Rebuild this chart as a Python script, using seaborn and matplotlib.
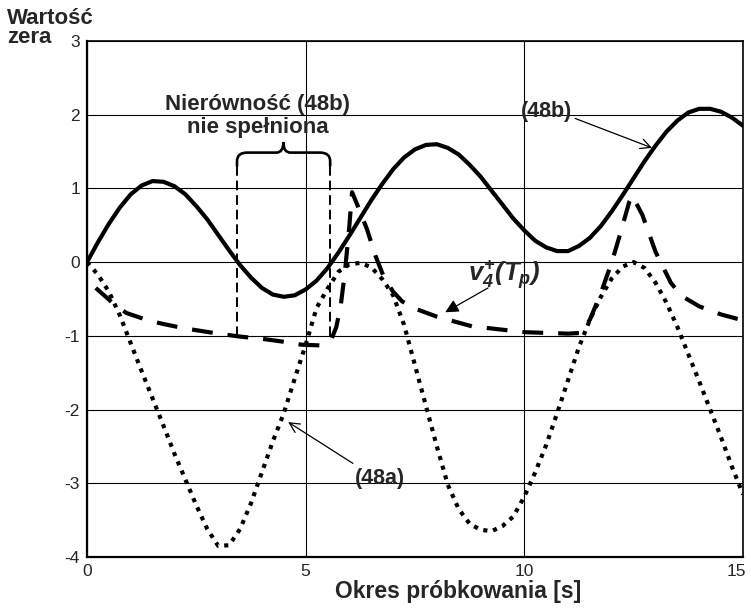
import numpy as np
import matplotlib
matplotlib.use("Agg")
import matplotlib.pyplot as plt
from matplotlib.path import Path
from matplotlib.patches import PathPatch
from matplotlib.transforms import ScaledTranslation
import seaborn as sns

# sampling instants, every 0.25 s
t = np.arange(0, 15.01, 0.25)

# (48b) - solid curve
zero_48b = [0.00, 0.27, 0.52, 0.74, 0.92, 1.04, 1.10, 1.09, 1.03, 0.92, 0.76, 0.58,
            0.37, 0.16, -0.04, -0.21, -0.35, -0.44, -0.47, -0.45, -0.37, -0.25, -0.08,
            0.13, 0.36, 0.60, 0.84, 1.06, 1.26, 1.42, 1.53, 1.59, 1.60, 1.55, 1.46,
            1.32, 1.16, 0.97, 0.78, 0.59, 0.43, 0.29, 0.20, 0.15, 0.15, 0.22, 0.33,
            0.49, 0.69, 0.91, 1.14, 1.37, 1.58, 1.77, 1.92, 2.03, 2.08, 2.08, 2.04,
            1.96, 1.85]

# (48a) - dotted curve
zero_48a = [0.00, -0.17, -0.40, -0.72, -1.10, -1.48, -1.85, -2.22, -2.60, -2.95, -3.30,
            -3.62, -3.85, -3.84, -3.62, -3.27, -2.85, -2.43, -2.05, -1.58, -1.12, -0.62,
            -0.36, -0.13, -0.03, -0.01, -0.07, -0.23, -0.45, -0.85, -1.40, -1.95, -2.50,
            -3.02, -3.35, -3.55, -3.63, -3.65, -3.58, -3.45, -3.18, -2.85, -2.48, -2.05,
            -1.60, -1.15, -0.78, -0.47, -0.22, -0.06, 0.00, -0.08, -0.28, -0.55, -0.88,
            -1.25, -1.62, -2.00, -2.38, -2.78, -3.15]

# v4+(Tp) - dashed curve
t_v4 = [0.2, 0.6, 0.9, 1.4, 1.75, 2.25, 3.0, 3.5, 4.0, 4.5, 4.9, 5.35, 5.6, 5.7, 5.8,
        5.9, 6.0, 6.06, 6.2, 6.4, 6.6, 6.8, 7.0, 7.2, 7.5, 8.0, 8.8, 10.0, 11.0, 11.3,
        11.5, 11.75, 12.0, 12.2, 12.4, 12.47, 12.7, 13.0, 13.35, 13.6, 14.0, 14.5, 15.0]
zero_v4 = [-0.35, -0.56, -0.69, -0.79, -0.84, -0.90, -0.97, -1.01, -1.04, -1.08, -1.12,
           -1.13, -1.03, -0.88, -0.60, -0.12, 0.50, 0.95, 0.75, 0.45, 0.08, -0.22, -0.40,
           -0.53, -0.63, -0.74, -0.87, -0.95, -0.97, -0.96, -0.78, -0.42, 0.00, 0.40,
           0.82, 0.90, 0.64, 0.14, -0.28, -0.46, -0.60, -0.71, -0.79]

sns.set_style("white")
plt.rcParams["font.family"] = ["Liberation Sans", "DejaVu Sans"]
plt.rcParams["axes.unicode_minus"] = False
plt.rcParams["mathtext.fontset"] = "custom"
plt.rcParams["mathtext.it"] = "Liberation Sans:italic:bold"
plt.rcParams["mathtext.rm"] = "Liberation Sans:italic:bold"

fig = plt.figure(figsize=(7.51, 6.12), dpi=100)
ax = fig.add_axes([87 / 751, 55 / 612, 656 / 751, 516 / 612])

sns.lineplot(x=t, y=zero_48b, ax=ax, color="black", linewidth=3)
sns.lineplot(x=t, y=zero_48a, ax=ax, color="black", linewidth=3,
             linestyle=(0, (1, 1.4)), dash_capstyle="butt")
sns.lineplot(x=t_v4, y=zero_v4, ax=ax, color="black", linewidth=3,
             linestyle=(0, (5, 3.6)), dash_capstyle="butt")

ax.set_xlim(0, 15)
ax.set_ylim(-4, 3)
ax.set_xticks([0, 5, 10, 15])
ax.set_yticks(range(-4, 4))
ax.grid(True, color="black", linewidth=0.8)
ax.set_axisbelow(True)
ax.tick_params(length=0, labelsize=12.5, pad=5)
for side in ax.spines:
    ax.spines[side].set_color("black")
    ax.spines[side].set_linewidth(1.2)
ax.spines["left"].set_linewidth(1.6)
ax.spines["bottom"].set_linewidth(1.6)

# keep the last x tick label inside the figure
last = ax.get_xticklabels()[-1]
last.set_transform(last.get_transform() + ScaledTranslation(-5 / 72, 0, fig.dpi_scale_trans))

# brace over the interval where (48b) is not satisfied
bx0, bx1, by, tip = 3.43, 5.56, 1.486, 1.63
verts = [(bx0, 1.30), (bx0, 1.37), (bx0, by), (bx0 + 0.23, by), (4.33, by),
         (4.49, by), (4.49, tip), (4.49, by), (4.65, by), (bx1 - 0.23, by),
         (bx1, by), (bx1, 1.37), (bx1, 1.30)]
codes = [Path.MOVETO, Path.LINETO, Path.CURVE3, Path.CURVE3, Path.LINETO,
         Path.CURVE3, Path.CURVE3, Path.CURVE3, Path.CURVE3, Path.LINETO,
         Path.CURVE3, Path.CURVE3, Path.LINETO]
ax.add_patch(PathPatch(Path(verts, codes), fill=False, lw=1.9, color="black"))
ax.plot([bx0, bx0], [1.30, -1.0], color="black", lw=1.4, linestyle=(0, (5, 2.5)))
ax.plot([bx1, bx1], [1.30, -1.02], color="black", lw=1.4, linestyle=(0, (5, 2.5)))

ax.text(3.91, 2.06, "Nierówność (48b)", fontsize=16, fontweight="bold",
        ha="center", va="baseline")
ax.text(3.91, 1.75, "nie spełniona", fontsize=16, fontweight="bold",
        ha="center", va="baseline")

# labels and their arrows
ax.text(10.5, 2.04, "(48b)", fontsize=15.5, fontweight="bold", ha="center", va="center")
ax.annotate("", xy=(12.92, 1.55), xytext=(11.16, 1.95),
            arrowprops=dict(arrowstyle="->", color="black", lw=0.9,
                            mutation_scale=18, shrinkA=0, shrinkB=0))
ax.text(6.70, -2.93, "(48a)", fontsize=15.5, fontweight="bold", ha="center", va="center")
ax.annotate("", xy=(4.60, -2.17), xytext=(6.08, -2.73),
            arrowprops=dict(arrowstyle="->", color="black", lw=0.9,
                            mutation_scale=18, shrinkA=0, shrinkB=0))
ax.text(9.55, -0.17, r"$v_4^{+}(T_p)$", fontsize=18.5, ha="center", va="center")
ax.annotate("", xy=(8.19, -0.68), xytext=(9.17, -0.35),
            arrowprops=dict(arrowstyle="-|>", color="black", lw=0.9,
                            mutation_scale=20, shrinkA=0, shrinkB=0))

fig.text(7 / 751, 1 - 24 / 612, "Wartość", fontsize=16, fontweight="bold", va="baseline")
fig.text(7 / 751, 1 - 43 / 612, "zera", fontsize=16, fontweight="bold", va="baseline")
fig.text(458 / 751, 1 - 598 / 612, "Okres próbkowania [s]", fontsize=16.5,
         fontweight="bold", ha="center", va="baseline")

fig.savefig("out.png", dpi=100)
